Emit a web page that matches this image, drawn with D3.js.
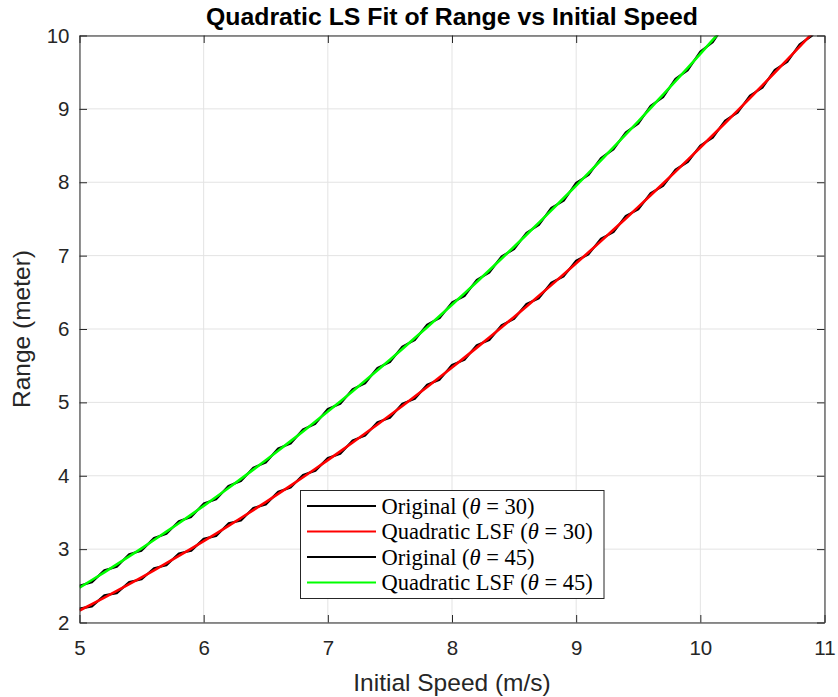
<!DOCTYPE html>
<html>
<head>
<meta charset="utf-8">
<script src="https://cdn.jsdelivr.net/npm/d3@7"></script>
<style>
  html, body { margin: 0; padding: 0; background: #fff; }
  svg { display: block; }
</style>
</head>
<body>
<svg id="chart" width="838" height="697"></svg>
<script>
// ---- data ----
const speeds = [5.0,5.1,5.2,5.3,5.4,5.5,5.6,5.7,5.8,5.9,6.0,6.1,6.2,6.3,6.4,6.5,6.6,6.7,6.8,6.9,
  7.0,7.1,7.2,7.3,7.4,7.5,7.6,7.7,7.8,7.9,8.0,8.1,8.2,8.3,8.4,8.5,8.6,8.7,8.8,8.9,
  9.0,9.1,9.2,9.3,9.4,9.5,9.6,9.7,9.8,9.9,10.0,10.1,10.2,10.3,10.4,10.5,10.6,10.7,10.8,10.9,11.0];

const original30 = [2.19,2.22,2.37,2.40,2.55,2.59,2.74,2.78,2.94,2.98,3.14,3.18,3.35,3.39,3.56,3.61,3.78,3.84,4.01,4.07,
  4.24,4.30,4.48,4.55,4.73,4.79,4.98,5.05,5.24,5.31,5.51,5.58,5.78,5.85,6.05,6.14,6.34,6.42,6.63,6.72,
  6.93,7.02,7.23,7.32,7.54,7.63,7.85,7.95,8.17,8.28,8.50,8.61,8.84,8.95,9.18,9.29,9.53,9.64,9.88,10.00,10.24];

const fit30 = [2.163,2.251,2.340,2.430,2.522,2.616,2.712,2.809,2.907,3.007,3.109,3.212,3.317,3.424,3.532,3.641,3.752,3.865,3.980,4.096,
  4.213,4.332,4.453,4.575,4.699,4.824,4.951,5.080,5.210,5.342,5.475,5.610,5.746,5.884,6.024,6.165,6.308,6.452,6.598,6.746,
  6.895,7.046,7.198,7.352,7.507,7.664,7.823,7.983,8.145,8.308,8.473,8.640,8.808,8.977,9.148,9.321,9.496,9.672,9.849,10.028,10.209];

const original45 = [2.50,2.55,2.71,2.76,2.93,2.98,3.15,3.21,3.38,3.44,3.62,3.68,3.86,3.93,4.11,4.18,4.37,4.44,4.63,4.71,
  4.91,4.98,5.18,5.26,5.47,5.55,5.76,5.85,6.06,6.15,6.36,6.45,6.67,6.77,6.99,7.09,7.31,7.42,7.65,7.75,
  7.99,8.10,8.33,8.45,8.68,8.80,9.04,9.16,9.41,9.53,9.78,9.91,10.16,10.29,10.55,10.68,10.94,11.08,11.34,11.48,11.75];

const fit45 = [2.475,2.579,2.684,2.792,2.901,3.011,3.124,3.238,3.353,3.471,3.590,3.711,3.833,3.958,4.084,4.211,4.341,4.472,4.604,4.739,
  4.875,5.013,5.152,5.294,5.437,5.581,5.728,5.876,6.025,6.177,6.330,6.485,6.641,6.800,6.960,7.121,7.285,7.450,7.616,7.785,
  7.955,8.127,8.300,8.476,8.653,8.831,9.012,9.194,9.377,9.563,9.750,9.939,10.129,10.322,10.516,10.711,10.909,11.108,11.308,11.511,11.715];

const xTicks = [5, 6, 7, 8, 9, 10, 11];
const yTicks = [2, 3, 4, 5, 6, 7, 8, 9, 10];

const seriesNames = ["Original", "Quadratic LSF", "Original", "Quadratic LSF"];
const seriesAngles = ["30", "30", "45", "45"];
const seriesColors = ["#000000", "#ff0000", "#000000", "#00ff00"];

const titleText = "Quadratic LS Fit of Range vs Initial Speed";
const xLabelText = "Initial Speed (m/s)";
const yLabelText = "Range (meter)";

// ---- layout ----
const svg = d3.select("#chart");
const L = 79.5, R = 824.5, T = 35.5, B = 622.5;
const axisColor = "#262626";
const sansFont = "'Liberation Sans', Arial, Helvetica, sans-serif";
const serifFont = "'Liberation Serif', 'Times New Roman', serif";

const x = d3.scaleLinear().domain([5, 11]).range([L, R]);
const y = d3.scaleLinear().domain([2, 10]).range([B, T]);

// grid
const grid = svg.append("g");
grid.selectAll("line.gx").data(xTicks).join("line")
  .attr("x1", d => x(d)).attr("x2", d => x(d)).attr("y1", T).attr("y2", B)
  .attr("stroke", "#e3e3e3").attr("stroke-width", 1);
grid.selectAll("line.gy").data(yTicks).join("line")
  .attr("y1", d => y(d)).attr("y2", d => y(d)).attr("x1", L).attr("x2", R)
  .attr("stroke", "#e3e3e3").attr("stroke-width", 1);

// clip
svg.append("defs").append("clipPath").attr("id", "plotclip")
  .append("rect").attr("x", L).attr("y", T).attr("width", R - L).attr("height", B - T);

const lineGen = d3.line().x(d => x(d[0])).y(d => y(d[1]));
const allSeries = [original30, fit30, original45, fit45];
const widths = [2.2, 2.6, 2.2, 2.6];
const plot = svg.append("g").attr("clip-path", "url(#plotclip)");
allSeries.forEach((vals, i) => {
  plot.append("path")
    .datum(speeds.map((s, j) => [s, vals[j]]))
    .attr("d", lineGen)
    .attr("fill", "none")
    .attr("stroke", seriesColors[i])
    .attr("stroke-width", widths[i])
    .attr("stroke-linejoin", "round");
});

// axes (ticks inward, box)
const tickLen = 7.5;
const fmt = d3.format("d");
const xAxisB = d3.axisBottom(x).tickValues(xTicks).tickFormat(fmt).tickSizeInner(-tickLen).tickSizeOuter(0).tickPadding(18);
const yAxisL = d3.axisLeft(y).tickValues(yTicks).tickFormat(fmt).tickSizeInner(-tickLen).tickSizeOuter(0).tickPadding(10);
const xAxisT = d3.axisTop(x).tickValues(xTicks).tickSizeInner(-tickLen).tickSizeOuter(0).tickFormat("");
const yAxisR = d3.axisRight(y).tickValues(yTicks).tickSizeInner(-tickLen).tickSizeOuter(0).tickFormat("");

function styleAxis(g) {
  g.selectAll("path.domain").attr("stroke", axisColor).attr("stroke-width", 1);
  g.selectAll(".tick line").attr("stroke", axisColor).attr("stroke-width", 1);
  g.selectAll(".tick text").attr("fill", axisColor).style("font-family", sansFont).style("font-size", "20.5px");
}
svg.append("g").attr("transform", `translate(0,${B})`).call(xAxisB).call(styleAxis);
svg.append("g").attr("transform", `translate(${L},0)`).call(yAxisL).call(styleAxis);
svg.append("g").attr("transform", `translate(0,${T})`).call(xAxisT).call(styleAxis);
svg.append("g").attr("transform", `translate(${R},0)`).call(yAxisR).call(styleAxis);

// title and labels
svg.append("text").attr("x", (L + R) / 2).attr("y", 25).attr("text-anchor", "middle")
  .style("font-family", sansFont).style("font-size", "24.8px").style("font-weight", "bold")
  .attr("fill", "#000").text(titleText);
svg.append("text").attr("x", (L + R) / 2).attr("y", 691).attr("text-anchor", "middle")
  .style("font-family", sansFont).style("font-size", "24.5px").attr("fill", axisColor).text(xLabelText);
svg.append("text").attr("transform", `translate(30,${(T + B) / 2}) rotate(-90)`).attr("text-anchor", "middle")
  .style("font-family", sansFont).style("font-size", "24.5px").attr("fill", axisColor).text(yLabelText);

// legend
const lg = svg.append("g");
const lx = 300.5, ly = 490.5, lw = 303.5, lh = 108;
lg.append("rect").attr("x", lx).attr("y", ly).attr("width", lw).attr("height", lh)
  .attr("fill", "#fff").attr("stroke", axisColor).attr("stroke-width", 1);
const rowY = [506, 531.5, 557, 582.5];
seriesNames.forEach((name, i) => {
  lg.append("line").attr("x1", 307).attr("x2", 376).attr("y1", rowY[i]).attr("y2", rowY[i])
    .attr("stroke", seriesColors[i]).attr("stroke-width", 2.2);
  const t = lg.append("text").attr("x", 381.5).attr("y", rowY[i] + 7.5)
    .style("font-family", serifFont).style("font-size", "22.5px").attr("fill", "#000")
    .attr("xml:space", "preserve");
  t.append("tspan").text(name + " (");
  t.append("tspan").style("font-style", "italic").text("θ");
  t.append("tspan").text(" = " + seriesAngles[i] + ")");
});
</script>
</body>
</html>
